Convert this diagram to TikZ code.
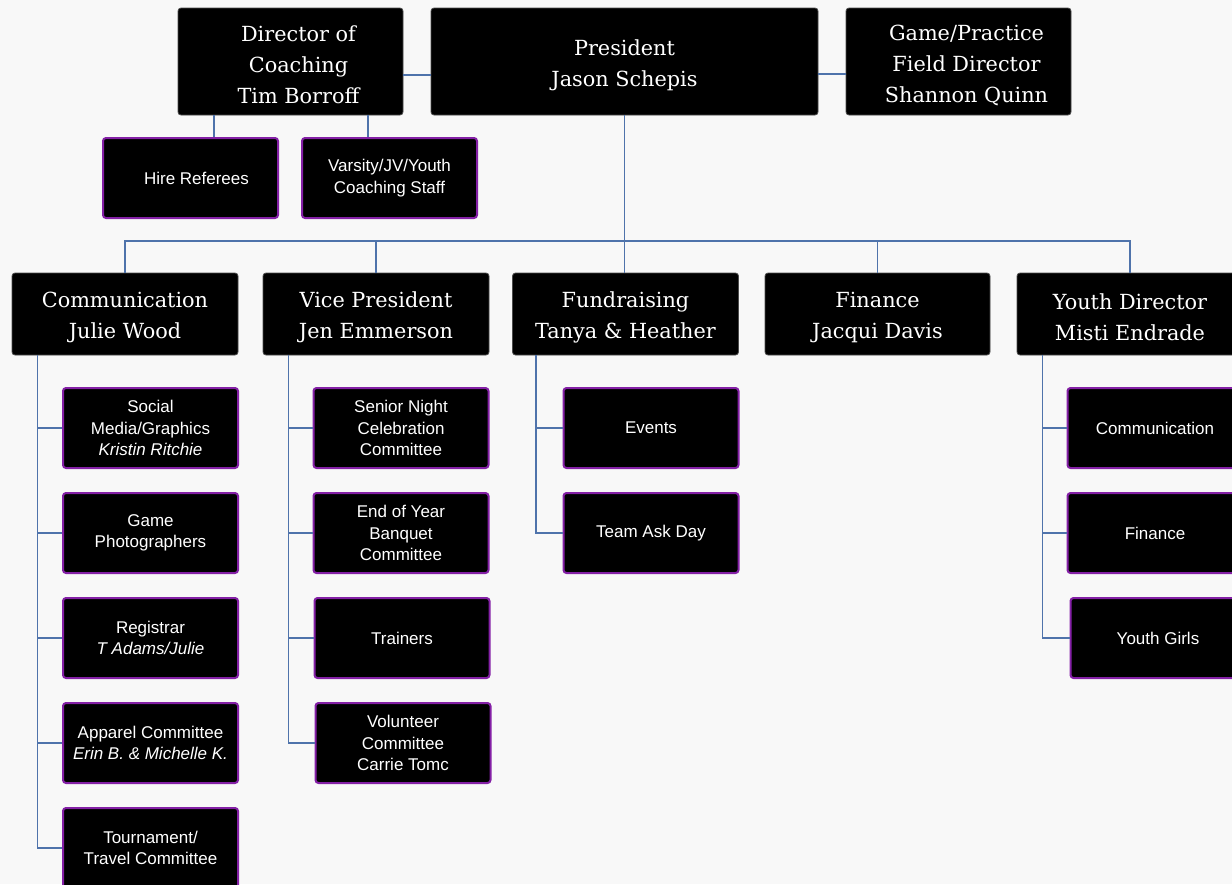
\documentclass[tikz,border=0pt]{standalone}
\usepackage{fontspec}
\setmainfont{DejaVu Serif}
\setsansfont{Liberation Sans}
\definecolor{bg}{HTML}{F8F8F8}
\definecolor{conn}{HTML}{4F73AB}
\definecolor{purp}{HTML}{8420A6}
\newcommand\rsh{\hspace*{16pt}}
\newcommand\tstr{\rule{0pt}{22.5pt}}
\tikzset{
  head/.style={fill=black, draw=black!70, line width=0.8pt, rounded corners=3pt, text=white, align=center, inner sep=0pt, minimum height=82pt, font=\fontsize{20.8}{31}\selectfont},
  sub/.style={fill=black, draw=purp, line width=2pt, rounded corners=3pt, text=white, align=center, inner sep=0pt, minimum width=175pt, minimum height=80pt, font=\sffamily\fontsize{17}{21.5}\selectfont},
  link/.style={draw=conn, line width=1.6pt},
}
\begin{document}
\begin{tikzpicture}[x=1pt,y=-1pt]
\fill[bg] (0,0) rectangle (1232,884);
\useasboundingbox (0,0) rectangle (1232,884);
% top row
\node[head, minimum width=225pt, minimum height=107pt] (doc) at (290.5,61.5) {\tstr\rsh Director of\\\rsh Coaching\\\rsh Tim Borroff};
\node[head, minimum width=387pt, minimum height=107pt] (pres) at (624.5,61.5) {\tstr President\\Jason Schepis};
\node[head, minimum width=225pt, minimum height=107pt] (game) at (958.5,61.5) {\tstr\rsh Game/Practice\\\rsh Field Director\\\rsh Shannon Quinn};
\node[sub] (hire) at (190.5,178) {\hspace*{12pt}Hire Referees};
\node[sub] (vars) at (389.5,178) {Varsity/JV/Youth\\Coaching Staff};
% second row
\node[head, minimum width=226pt] (comm) at (125,314) {\tstr Communication\\Julie Wood};
\node[head, minimum width=226pt] (vp) at (376,314) {\tstr Vice President\\Jen Emmerson};
\node[head, minimum width=226pt] (fund) at (625.5,314) {\tstr Fundraising\\Tanya \& Heather};
\node[head, minimum width=225pt] (fin) at (877.5,314) {\tstr Finance\\Jacqui Davis};
\node[head, minimum width=226pt] (yd) at (1130,314) {\tstr Youth Director\\Misti Endrade};
% communication column
\node[sub] (c1) at (150.5,428) {Social\\Media/Graphics\\\textit{Kristin Ritchie}};
\node[sub] (c2) at (150.5,533) {Game\\Photographers};
\node[sub] (c3) at (150.5,638) {Registrar\\\textit{T Adams/Julie}};
\node[sub] (c4) at (150.5,743) {Apparel Committee\\\textit{Erin B. \& Michelle K.}};
\node[sub] (c5) at (150.5,848) {Tournament/\\Travel Committee};
% vice president column
\node[sub] (v1) at (401,428) {Senior Night\\Celebration\\Committee};
\node[sub] (v2) at (401,533) {End of Year\\Banquet\\Committee};
\node[sub] (v3) at (402,638) {Trainers};
\node[sub] (v4) at (403,743) {Volunteer\\Committee\\Carrie Tomc};
% fundraising column
\node[sub] (f1) at (651,428) {Events};
\node[sub] (f2) at (651,533) {Team Ask Day};
% youth director column
\node[sub] (y1) at (1155,428) {Communication};
\node[sub] (y2) at (1155,533) {Finance};
\node[sub] (y3) at (1158,638) {Youth Girls};
% connectors
\coordinate (bus) at (0,241);
\draw[link] ([yshift=-13.5pt]doc.east) -- ([yshift=-13.5pt]pres.west);
\draw[link] ([yshift=-12.5pt]pres.east) -- ([yshift=-12.5pt]game.west);
\draw[link] ([xshift=-76.5pt]doc.south) -- ([xshift=23.5pt]hire.north);
\draw[link] ([xshift=77.5pt]doc.south) -- ([xshift=-21.5pt]vars.north);
\draw[link] (pres.south) -- (pres.south |- fund.north);
\draw[link] (comm.north) |- (bus -| yd.north) -- (yd.north);
\draw[link] (vp.north) -- (vp.north |- bus);
\draw[link] (fin.north) -- (fin.north |- bus);
\foreach \n in {c1,c2,c3,c4,c5} \draw[link] ([xshift=26pt]comm.south west) |- (\n.west);
\foreach \n in {v1,v2,v3,v4} \draw[link] ([xshift=26pt]vp.south west) |- (\n.west);
\foreach \n in {f1,f2} \draw[link] ([xshift=24pt]fund.south west) |- (\n.west);
\foreach \n in {y1,y2,y3} \draw[link] ([xshift=26pt]yd.south west) |- (\n.west);
\end{tikzpicture}
\end{document}
